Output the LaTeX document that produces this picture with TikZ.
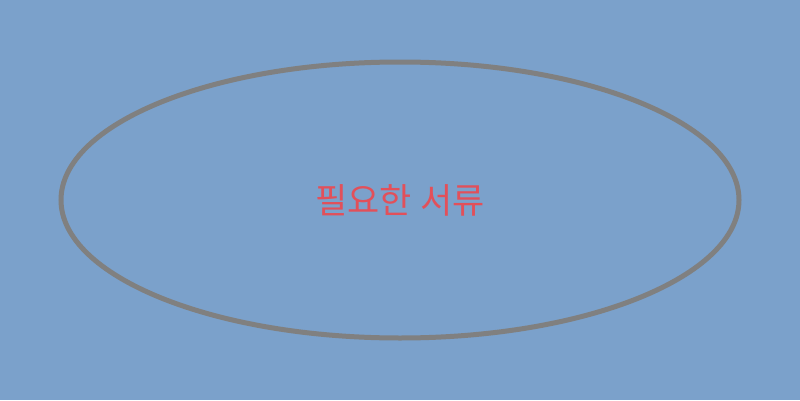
\documentclass[tikz,border=0pt]{standalone}
\usepackage{fontspec}
\newfontfamily\cjk{Noto Sans CJK KR}
\usepackage{xcolor}
\usetikzlibrary{shapes,backgrounds,positioning}
\definecolor{bgblue}{RGB}{123,161,203}
\definecolor{rimgray}{RGB}{128,128,128}
\definecolor{labelred}{RGB}{226,80,90}

\begin{document}
\begin{tikzpicture}[x=1pt,y=1pt]
	
	\tikzstyle{every ellipse}=[ellipse,
	minimum width = 678pt, minimum height = 276pt,
	draw=rimgray, line width=5pt, inner sep=0pt,
	text=labelred, font=\cjk\fontsize{35}{40}\selectfont]
	
	%background
	\fill[bgblue] (0,0) rectangle (800,400);
	\useasboundingbox (0,0) rectangle (800,400);
	
	\node[every ellipse]
	(docs) at (400,200)
	{필요한 서류};
	
\end{tikzpicture}
\end{document}
